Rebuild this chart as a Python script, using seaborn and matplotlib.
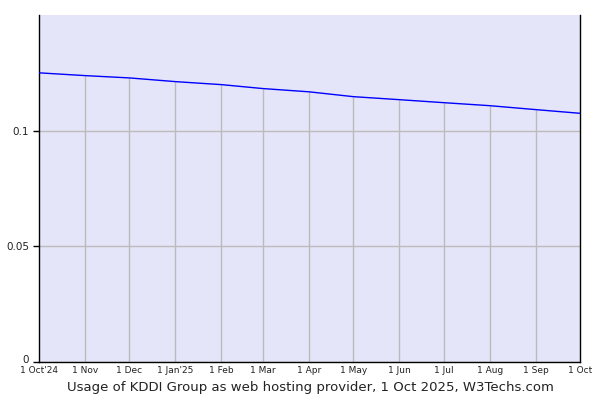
import pandas as pd
import seaborn as sns
import matplotlib.pyplot as plt
import matplotlib.transforms as mtransforms

# data (share of websites, monthly)
dates = pd.date_range("2024-10-01", "2025-10-01", freq="MS")
usage = [0.1250, 0.1238, 0.1228, 0.1212, 0.1199, 0.1182, 0.1168,
         0.1147, 0.1134, 0.1121, 0.1108, 0.1091, 0.1075]
tick_labels = ["1 Oct'24", "1 Nov", "1 Dec", "1 Jan'25", "1 Feb", "1 Mar", "1 Apr",
               "1 May", "1 Jun", "1 Jul", "1 Aug", "1 Sep", "1 Oct"]
y_ticks = [0, 0.05, 0.1]
y_labels = ["0", "0.05", "0.1"]

df = pd.DataFrame({"date": dates, "usage": usage})

sns.set_theme(style="white")
plt.rcParams["font.family"] = ["DejaVu Sans"]

fig = plt.figure(figsize=(6, 4), dpi=100)
ax = fig.add_axes([0.065, 0.095, 0.902, 0.8675])
ax.set_facecolor("#e5e5f9")

# vertical grid only runs from the baseline up to the line
ax.vlines(df["date"][1:-1], 0, df["usage"][1:-1], color="#bbbbbb", linewidth=1, zorder=1)
sns.lineplot(data=df, x="date", y="usage", color="#0000ff", linewidth=1, ax=ax, zorder=3)

ax.set_xlim(dates[0], dates[-1])
ax.set_ylim(0, 0.15)
ax.set_xticks(dates)
ax.set_xticklabels(tick_labels, fontsize=6.5, color="#222222")
ax.set_yticks(y_ticks)
ax.set_yticklabels(y_labels, fontsize=7.5, color="#222222")

ax.grid(True, axis="y", color="#bbbbbb", linewidth=1)
ax.set_axisbelow(True)
ax.tick_params(axis="y", length=4, width=1, color="black", pad=3, left=True)
ax.tick_params(axis="x", length=0, pad=3)

# lift the "0" label a little so it clears the first date label
zero_lbl = ax.get_yticklabels()[0]
zero_lbl.set_transform(zero_lbl.get_transform() +
                       mtransforms.ScaledTranslation(0, 3 / 100, fig.dpi_scale_trans))

for side in ["left", "bottom", "right"]:
    ax.spines[side].set_color("black")
    ax.spines[side].set_linewidth(1)
ax.spines["top"].set_visible(False)

ax.set_xlabel("")
ax.set_ylabel("")
fig.text(0.517, 0.03, "Usage of KDDI Group as web hosting provider, 1 Oct 2025, W3Techs.com",
         ha="center", va="center", fontsize=9.5, color="#222222")

plt.savefig("out.png", dpi=100)
